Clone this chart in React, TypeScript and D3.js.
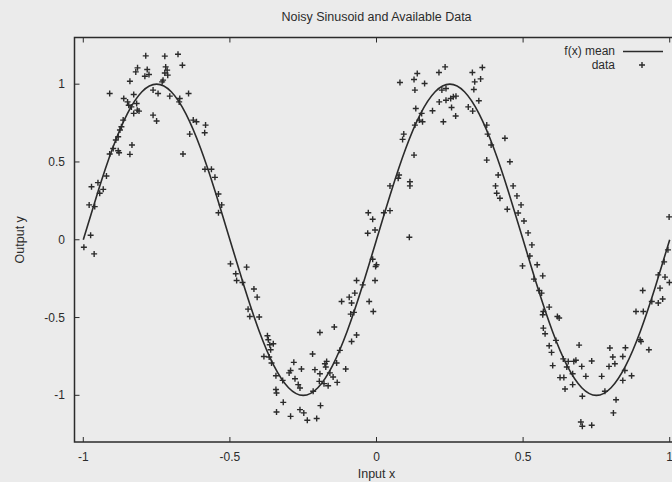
import React from "react";
import * as d3 from "d3";

// ---- data ----
const X_TICKS = [-1, -0.5, 0, 0.5, 1];
const X_TICK_LABELS = ["-1", "-0.5", "0", "0.5", "1"];
const Y_TICKS = [-1, -0.5, 0, 0.5, 1];
const Y_TICK_LABELS = ["-1", "-0.5", "0", "0.5", "1"];

// f(x) mean curve
const MEAN_X = [-1, -0.95, -0.9, -0.85, -0.8, -0.75, -0.7, -0.65, -0.6, -0.55, -0.5, -0.45, -0.4, -0.35, -0.3, -0.25, -0.2, -0.15, -0.1, -0.05, 0,
  0.05, 0.1, 0.15, 0.2, 0.25, 0.3, 0.35, 0.4, 0.45, 0.5, 0.55, 0.6, 0.65, 0.7, 0.75, 0.8, 0.85, 0.9, 0.95, 1];
const MEAN_Y = [0, 0.309, 0.588, 0.809, 0.951, 1, 0.951, 0.809, 0.588, 0.309, 0, -0.309, -0.588, -0.809, -0.951, -1, -0.951, -0.809, -0.588, -0.309, 0,
  0.309, 0.588, 0.809, 0.951, 1, 0.951, 0.809, 0.588, 0.309, 0, -0.309, -0.588, -0.809, -0.951, -1, -0.951, -0.809, -0.588, -0.309, 0];

// noisy data points
const DATA_X = [
  -0.787, -0.722, -0.677, -0.662, -0.815, -0.821, -0.782, -0.776, -0.790, -0.719,
  -0.714, -0.722, -0.712, -0.728, -0.731, -0.841, -0.910, -0.862, -0.828, -0.849,
  -0.845, -0.818, -0.836, -0.816, -0.828, -0.810, -0.745, -0.762, -0.705, -0.671,
  -0.673, -0.641, -0.762, -0.750, -0.625, -0.614, -0.583, -0.637, -0.586, -0.864,
  -0.870, -0.875, -0.881, -0.889, -0.898, -0.881, -0.878, -0.834, -0.841, -0.910,
  -0.660, -0.585, -0.563,
  -0.921, -0.950, -0.972, -0.932, -0.944, -0.980, -0.961, -0.975, -0.998, -0.963,
  -0.551, -0.539, -0.528, -0.539,
  -0.498, -0.443, -0.480, -0.477, -0.457, -0.418, -0.407, -0.438, -0.432, -0.400,
  -0.372, -0.369, -0.364, -0.352, -0.361, -0.384, -0.366, -0.358, -0.343, -0.320,
  -0.343, -0.341, -0.293, -0.282, -0.298, -0.256, -0.278, -0.267, -0.261, -0.318,
  -0.341, -0.293, -0.261, -0.248, -0.236, -0.204, -0.191, -0.216, -0.210, -0.193,
  -0.195, -0.179, -0.176, -0.170, -0.173, -0.159, -0.148, -0.165, -0.134, -0.136,
  -0.218, -0.193, -0.144, -0.125, -0.105, -0.085, -0.068, -0.119, -0.093, -0.085,
  -0.074, -0.068, -0.088, -0.077, -0.047, -0.025, -0.011, -0.003, -0.005,
  0.080, 0.139, 0.128, 0.164, 0.131, 0.213, 0.234, 0.327, 0.361, 0.355,
  0.335, 0.332, 0.349, 0.223, 0.237, 0.214, 0.237, 0.253, 0.271, 0.262,
  0.256, 0.270, 0.228, 0.191, 0.134, 0.154, 0.146, 0.157, 0.131, 0.093,
  0.089, 0.128, 0.313, 0.328, 0.376, 0.379, 0.391, 0.376, 0.438, 0.455,
  0.077, 0.074, 0.114, 0.114, 0.046, -0.028, -0.013, 0.025, 0.046, -0.005,
  -0.030, 0.112, -0.013, 0.000,
  0.415, 0.406, 0.410, 0.421, 0.446,
  0.498, 0.548, 0.567, 0.537, 0.555, 0.563, 0.589, 0.569, 0.567, 0.617,
  0.623, 0.569, 0.575, 0.612, 0.589, 0.597, 0.637, 0.654, 0.680, 0.673,
  0.601, 0.649, 0.700, 0.691, 0.734, 0.796, 0.849, 0.806, 0.840, 0.813,
  0.793, 0.768, 0.847, 0.840, 0.870, 0.626, 0.639, 0.669, 0.714, 0.669,
  0.643, 0.702, 0.779, 0.817, 0.808, 0.697, 0.702, 0.734, 0.908, 0.885,
  0.910, 0.899, 0.902, 0.929, 0.939, 0.961, 0.976, 0.967, 0.961, 0.984,
  0.999,
  0.466, 0.479, 0.493, 0.483, 0.503, 0.517, 0.530, 0.523, 0.998, 0.994, 0.981,
];
const DATA_Y = [
  1.182, 1.180, 1.192, 1.122, 1.105, 1.079, 1.094, 1.062, 1.051, 1.111,
  1.090, 1.072, 1.058, 1.026, 1.015, 1.019, 0.940, 0.908, 0.934, 0.886,
  0.865, 0.876, 0.854, 0.833, 0.812, 0.827, 0.940, 0.962, 0.923, 0.908,
  0.886, 0.940, 0.801, 0.763, 0.769, 0.758, 0.737, 0.679, 0.688, 0.769,
  0.726, 0.705, 0.662, 0.641, 0.587, 0.572, 0.559, 0.609, 0.549, 0.551,
  0.551, 0.453, 0.453,
  0.410, 0.367, 0.341, 0.324, 0.299, 0.224, 0.213, 0.029, -0.048, -0.091,
  0.401, 0.294, 0.224, 0.174,
  -0.155, -0.176, -0.219, -0.262, -0.275, -0.317, -0.369, -0.446, -0.493, -0.497,
  -0.617, -0.643, -0.675, -0.668, -0.707, -0.750, -0.754, -0.792, -0.874, -0.904,
  -0.963, -0.985, -0.840, -0.788, -0.856, -0.831, -0.893, -0.931, -0.953, -1.045,
  -1.107, -1.135, -1.092, -1.113, -1.160, -1.149, -1.066, -0.974, -0.835, -0.861,
  -0.910, -0.925, -0.797, -0.782, -0.818, -0.856, -0.882, -0.938, -0.917, -0.792,
  -0.734, -0.596, -0.561, -0.711, -0.831, -0.654, -0.612, -0.397, -0.369, -0.407,
  -0.343, -0.262, -0.478, -0.467, -0.290, -0.397, -0.461, -0.172, -0.262,
  1.011, 1.069, 1.030, 1.004, 0.962, 1.075, 1.111, 1.075, 1.107, 1.034,
  1.015, 0.966, 0.893, 0.962, 0.972, 0.886, 0.897, 0.908, 0.923, 0.919,
  0.850, 0.795, 0.758, 0.829, 0.844, 0.812, 0.769, 0.758, 0.737, 0.679,
  0.645, 0.544, 0.854, 0.827, 0.737, 0.679, 0.609, 0.512, 0.652, 0.501,
  0.416, 0.395, 0.373, 0.346, 0.346, 0.174, 0.132, 0.174, 0.187, 0.063,
  0.042, 0.016, -0.125, -0.161,
  0.416, 0.346, 0.299, 0.267, 0.196,
  -0.168, -0.161, -0.232, -0.253, -0.326, -0.343, -0.433, -0.461, -0.482, -0.493,
  -0.503, -0.568, -0.604, -0.647, -0.681, -0.724, -0.766, -0.782, -0.775, -0.782,
  -0.809, -0.818, -0.814, -0.677, -0.779, -0.696, -0.694, -0.754, -0.750, -0.797,
  -0.814, -0.878, -0.840, -0.904, -0.874, -0.886, -0.886, -0.861, -0.878, -0.931,
  -0.959, -1.006, -0.974, -1.028, -1.113, -1.171, -1.199, -1.192, -0.326, -0.461,
  -0.461, -0.643, -0.654, -0.707, -0.397, -0.407, -0.381, -0.311, -0.226, -0.240,
  -0.275,
  0.346, 0.282, 0.224, 0.172, 0.121, 0.044, -0.033, -0.104, 0.147, -0.065, -0.142,
];

const TITLE = "Noisy Sinusoid and Available Data";
const X_LABEL = "Input x";
const Y_LABEL = "Output y";
const LEGEND_LINE = "f(x) mean";
const LEGEND_DATA = "data";

// ---- layout ----
const W = 672;
const H = 482;
const LEFT = 74.5;
const RIGHT = 678.5;
const TOP = 37.5;
const BOTTOM = 442;
const FONT = "'Liberation Sans', Arial, Helvetica, sans-serif";
const INK = "#2b2b2b";
const BG = "#ebebeb";

export default function App() {
  const x = d3.scaleLinear().domain([-1.03, 1.03]).range([LEFT, RIGHT]);
  const y = d3.scaleLinear().domain([-1.3, 1.3]).range([BOTTOM, TOP]);

  const meanPts: [number, number][] = MEAN_X.map((v, i) => [v, MEAN_Y[i]]);
  const line = d3
    .line<[number, number]>()
    .x((d) => x(d[0]))
    .y((d) => y(d[1]))
    .curve(d3.curveNatural);

  const pts = DATA_X.map((v, i) => [x(v), y(DATA_Y[i])]);
  const arm = 3;
  const tick = 5;

  return (
    <svg
      width={W}
      height={H}
      style={{ position: "absolute", left: 0, top: 0, display: "block" }}
      fontFamily={FONT}
    >
      <rect x={0} y={0} width={W} height={H} fill={BG} />
      <text x={376.5} y={21} textAnchor="middle" fontSize={12.5} fill={INK}>
        {TITLE}
      </text>

      {/* ticks */}
      {X_TICKS.map((t, i) => (
        <g key={"xt" + i}>
          <line x1={x(t)} x2={x(t)} y1={BOTTOM} y2={BOTTOM - tick} stroke={INK} strokeWidth={1} />
          <line x1={x(t)} x2={x(t)} y1={TOP} y2={TOP + tick} stroke={INK} strokeWidth={1} />
          <text x={x(t)} y={461} textAnchor="middle" fontSize={12} fill={INK}>
            {X_TICK_LABELS[i]}
          </text>
        </g>
      ))}
      {Y_TICKS.map((t, i) => (
        <g key={"yt" + i}>
          <line x1={LEFT} x2={LEFT + tick} y1={y(t)} y2={y(t)} stroke={INK} strokeWidth={1} />
          <line x1={RIGHT} x2={RIGHT - tick} y1={y(t)} y2={y(t)} stroke={INK} strokeWidth={1} />
          <text x={65} y={y(t) + 4} textAnchor="end" fontSize={12} fill={INK}>
            {Y_TICK_LABELS[i]}
          </text>
        </g>
      ))}

      {/* frame */}
      <rect
        x={LEFT}
        y={TOP}
        width={RIGHT - LEFT}
        height={BOTTOM - TOP}
        fill="none"
        stroke={INK}
        strokeWidth={1.5}
      />

      {/* mean curve */}
      <path d={line(meanPts) || ""} fill="none" stroke={INK} strokeWidth={1.6} />

      {/* data */}
      {pts.map((p, i) => (
        <path
          key={"p" + i}
          d={`M${p[0] - arm},${p[1]}H${p[0] + arm}M${p[0]},${p[1] - arm}V${p[1] + arm}`}
          stroke={INK}
          strokeWidth={1.4}
          fill="none"
        />
      ))}

      {/* legend */}
      <text x={615} y={55} textAnchor="end" fontSize={12} fill={INK}>
        {LEGEND_LINE}
      </text>
      <line x1={623} x2={663} y1={51.5} y2={51.5} stroke={INK} strokeWidth={1.6} />
      <text x={615} y={69} textAnchor="end" fontSize={12} fill={INK}>
        {LEGEND_DATA}
      </text>
      <path d={`M${642 - arm},65H${642 + arm}M642,${65 - arm}V${65 + arm}`} stroke={INK} strokeWidth={1.4} />

      {/* axis labels */}
      <text x={376.5} y={478} textAnchor="middle" fontSize={12.5} fill={INK}>
        {X_LABEL}
      </text>
      <text
        transform={`translate(24,${(TOP + BOTTOM) / 2}) rotate(-90)`}
        textAnchor="middle"
        fontSize={12.5}
        fill={INK}
      >
        {Y_LABEL}
      </text>
    </svg>
  );
}
